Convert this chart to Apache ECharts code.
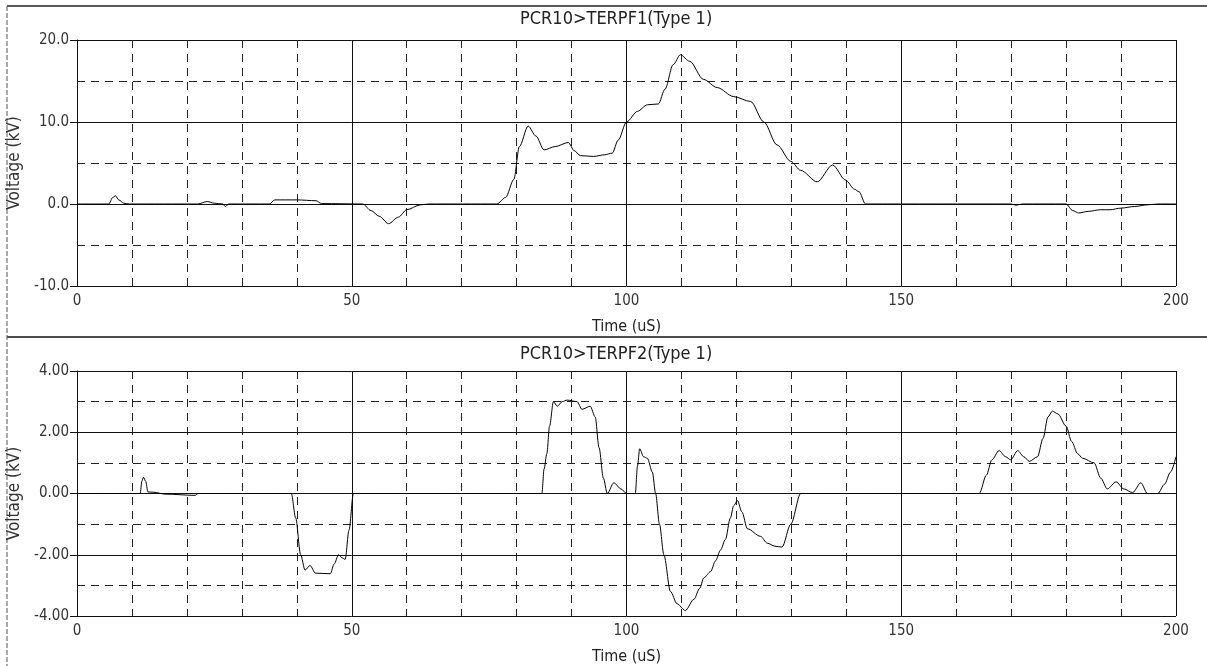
<!DOCTYPE html>
<html>
<head>
<meta charset="utf-8">
<script src="https://cdn.jsdelivr.net/npm/echarts@6/dist/echarts.min.js"></script>
<style>
html,body{margin:0;padding:0;background:#fff;}
#chart{width:1207px;height:666px;}
</style>
</head>
<body>
<div id="chart"></div>
<script>
// ---- Data ----
const titleTop = 'PCR10>TERPF1(Type 1)';
const titleBottom = 'PCR10>TERPF2(Type 1)';
const xAxisName = 'Time (uS)';
const yAxisName = 'Voltage (kV)';

// Top panel: time (uS) and voltage (kV)
const timeTop = [0,5.8,6.5,7.0,7.6,8.5,9.5,22,23.7,25,26.5,27,27.6,35,36,40,43.5,44.5,52,53.5,55,56.7,58.5,60,62.5,64,
  76.4,78,79.5,80.5,82.1,83.5,85,87,89.4,90.5,91.6,94,96,97.4,98.5,100,102,103.8,105.8,107,108.5,109.8,111.5,114,116.5,
  119.5,122.6,125,127.4,129.9,131.7,134.7,137.5,139.9,141.5,142.3,143.5,170,170.9,172,180,181.2,182.3,184,186.3,188,190,
  192.5,194.8,196.7,200];
const voltTop = [0,0,0.8,1.0,0.5,0.1,0,0,0.3,0.1,0,-0.3,0,0,0.5,0.5,0.4,0.05,0,-0.8,-1.5,-2.4,-1.6,-0.7,-0.1,0,
  0,0.8,3,7,9.5,8.3,6.6,7.0,7.5,6.5,5.9,5.8,6.0,6.2,7.8,10,11.3,12.1,12.2,14,17,18.2,17.4,15.2,14.2,
  13.1,12.5,10,7.2,5.2,4.1,2.7,4.75,2.9,1.8,1.5,0,0,-0.15,0,0,-0.8,-1.1,-0.9,-0.7,-0.7,-0.5,
  -0.3,-0.1,0,0];

// Bottom panel
const timeBottom = [0,11.5,11.8,12.1,12.5,12.9,14,16,21.5,22,39,39.8,40.7,41.5,42.4,43.4,46.1,46.8,47.6,48.2,48.8,49.5,50.3,
  84.6,85.0,85.5,86.0,86.7,87.4,88.3,89.2,91,91.9,93.4,94.3,95,95.8,96.5,97.7,99,100,101.6,102.0,102.4,103.1,103.8,104.7,
  105.3,106,106.8,108,109.2,110.7,112.3,113.3,114.1,115.3,116.2,117.1,118,118.9,119.5,120.2,121,122,124.4,125.6,127,128.3,
  129.9,131.7,164.2,165.5,166.5,167.8,169,169.9,171.2,172.3,173.3,174.8,175.8,176.7,177.5,178.5,180,181,182.1,183,185.1,
  186.3,187.5,189.1,190.5,192.1,193.6,194.8,196.7,197.9,199,200];
const voltBottom = [0,0,0.4,0.53,0.4,0.05,0.04,-0.02,-0.06,0,0,-0.8,-2.0,-2.5,-2.35,-2.6,-2.62,-2.3,-2.0,-2.1,-2.15,-1.2,0,
  0,0.8,1.3,2.2,3.0,2.85,3.0,3.05,3.0,2.75,2.85,2.5,1.5,0.5,0,0.35,0.15,0,0,0.9,1.46,1.2,1.15,0.7,
  0,-1.0,-2.0,-3.2,-3.6,-3.82,-3.45,-3.1,-2.75,-2.55,-2.2,-1.85,-1.5,-0.8,-0.4,-0.23,-0.6,-1.15,-1.4,-1.62,-1.72,-1.75,
  -1.0,0,0,0.6,1.1,1.4,1.2,1.1,1.4,1.2,1.05,1.2,1.8,2.5,2.69,2.6,2.2,1.7,1.3,1.15,1.0,
  0.5,0.15,0.38,0.15,0.03,0.35,0,0,0.3,0.7,1.2];

const yTopRange = [-10, 20, 10];
const yBottomRange = [-4, 4, 2];
const xRange = [0, 200, 50];

// ---- Chart ----
const FONT = "'Liberation Sans Narrow','DejaVu Sans Condensed','Liberation Sans',sans-serif";
const pairs = (xs, ys) => xs.map((x, i) => [x, ys[i]]);

function xAxis(gi) {
  return {
    type: 'value', gridIndex: gi, min: xRange[0], max: xRange[1], interval: xRange[2],
    name: xAxisName, nameLocation: 'middle', nameGap: 33,
    nameTextStyle: {fontFamily: FONT, fontSize: 16, color: '#222'},
    axisLine: {lineStyle: {color: '#111', width: 1}},
    axisTick: {show: true, length: 5, inside: false, lineStyle: {color: '#111'}},
    axisLabel: {fontFamily: FONT, fontSize: 15, color: '#333', margin: 8},
    splitLine: {show: true, lineStyle: {color: '#111', width: 1}},
    minorTick: {show: false, splitNumber: 5},
    minorSplitLine: {show: true, lineStyle: {color: '#222', width: 1, type: [8, 6]}}
  };
}
function yAxis(gi, r, fmt) {
  return {
    type: 'value', gridIndex: gi, min: r[0], max: r[1], interval: r[2],
    name: yAxisName, nameLocation: 'middle', nameGap: 50, nameRotate: 90,
    nameTextStyle: {fontFamily: FONT, fontSize: 17, color: '#333'},
    axisLine: {show: true, lineStyle: {color: '#111', width: 1}},
    axisTick: {show: true, length: 7, inside: false, lineStyle: {color: '#111'}},
    axisLabel: {fontFamily: FONT, fontSize: 15, color: '#333', margin: 8,
      formatter: v => v.toFixed(fmt)},
    splitLine: {show: true, lineStyle: {color: '#111', width: 1}},
    minorTick: {show: false, splitNumber: 2},
    minorSplitLine: {show: true, lineStyle: {color: '#222', width: 1, type: [8, 6]}}
  };
}

const chart = echarts.init(document.getElementById('chart'), null, {renderer: 'canvas'});
chart.setOption({
  animation: false,
  backgroundColor: '#fff',
  title: [
    {text: titleTop, left: 515, top: 5,
      textStyle: {fontFamily: FONT, fontSize: 18, fontWeight: 'normal', color: '#222'}},
    {text: titleBottom, left: 515, top: 340,
      textStyle: {fontFamily: FONT, fontSize: 18, fontWeight: 'normal', color: '#222'}}
  ],
  grid: [
    {left: 77, right: 31, top: 40, height: 246, containLabel: false, outerBoundsMode: 'none'},
    {left: 77, right: 31, top: 371, height: 245, containLabel: false, outerBoundsMode: 'none'}
  ],
  xAxis: [xAxis(0), xAxis(1)],
  yAxis: [yAxis(0, yTopRange, 1), yAxis(1, yBottomRange, 2)],
  graphic: [
    {type: 'line', shape: {x1: 7, y1: 6, x2: 1207, y2: 6}, style: {stroke: '#222', lineWidth: 1.5}},
    {type: 'line', shape: {x1: 7, y1: 337, x2: 1207, y2: 337}, style: {stroke: '#111', lineWidth: 1.5}},
    {type: 'line', shape: {x1: 7, y1: 6, x2: 7, y2: 666}, style: {stroke: '#555', lineWidth: 1, lineDash: [5, 2]}}
  ],
  series: [
    {type: 'line', xAxisIndex: 0, yAxisIndex: 0, data: pairs(timeTop, voltTop),
      showSymbol: false, smooth: 0.3, smoothMonotone: 'x',
      lineStyle: {color: '#000', width: 1}},
    {type: 'line', xAxisIndex: 1, yAxisIndex: 1, data: pairs(timeBottom, voltBottom),
      showSymbol: false, smooth: 0.3, smoothMonotone: 'x',
      lineStyle: {color: '#000', width: 1}}
  ]
});
</script>
</body>
</html>
